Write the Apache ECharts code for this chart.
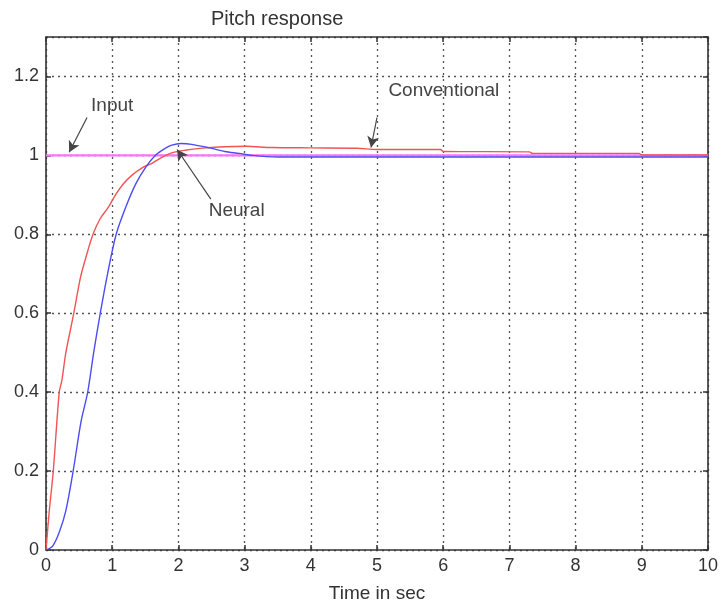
<!DOCTYPE html>
<html>
<head>
<meta charset="utf-8">
<script src="https://cdn.jsdelivr.net/npm/echarts@6/dist/echarts.min.js"></script>
<style>html,body{margin:0;padding:0;background:#fff}#c{width:721px;height:608px}</style>
</head>
<body>
<div id="c"></div>
<script>
// ---- data ----
const titleText = 'Pitch response';
const xAxisName = 'Time in sec';
const inputSeries = [[0, 1], [10, 1]];
const conventional = [
  [0,0],[0.05,0.1],[0.11,0.2],[0.2,0.4],[0.24,0.43],[0.3,0.5],[0.42,0.6],[0.52,0.69],
  [0.6,0.74],[0.71,0.8],[0.82,0.84],[0.94,0.868],[1.05,0.9],[1.17,0.928],[1.3,0.95],
  [1.47,0.97],[1.6,0.98],[1.75,0.995],[1.91,1.007],[2.1,1.013],[2.41,1.019],[2.7,1.022],
  [3.02,1.023],[3.4,1.02],[4.0,1.019],[4.7,1.018],[5.0,1.015],[5.96,1.015],[6.0,1.01],
  [7.3,1.009],[7.35,1.005],[8.96,1.005],[9.0,1.001],[10,1.001]
];
const neural = [
  [0,0],[0.1,0.01],[0.2,0.045],[0.3,0.1],[0.41,0.2],[0.53,0.326],[0.63,0.4],[0.72,0.5],
  [0.82,0.6],[0.93,0.7],[1.06,0.8],[1.21,0.871],[1.36,0.929],[1.51,0.971],[1.65,1.0],
  [1.8,1.018],[1.9,1.026],[2.04,1.03],[2.2,1.028],[2.47,1.019],[2.7,1.01],[2.92,1.005],
  [3.11,1.0],[3.5,0.996],[10,0.996]
];
const labelTexts = ['Input', 'Neural', 'Conventional'];
const labelAt = [[1.0, 1.126], [2.88, 0.86], [6.01, 1.164]];
const arrowFrom = [[0.62, 1.096], [2.49, 0.889], [5.0, 1.096]];
const arrowTo = [[0.35, 1.008], [1.98, 1.015], [4.91, 1.02]];

// ---- chart ----
const chart = echarts.init(document.getElementById('c'));
const font = 'Liberation Sans, Arial, sans-serif';
const axisCommon = {
  axisLine: { show: true, onZero: false, lineStyle: { color: '#333', width: 1.6 } },
  axisTick: { show: true, inside: true, length: 5, lineStyle: { color: '#333', width: 1.5 } },
};
const gridLine = { show: true, lineStyle: { color: '#555', type: [2, 4], width: 1.3 } };
const option = {
  animation: false,
  backgroundColor: '#fff',
  title: {
    text: titleText, left: 206, top: 4,
    textStyle: { fontFamily: font, fontSize: 20, fontWeight: 'normal', color: '#333' }
  },
  grid: { left: 46, right: 11, top: 37, bottom: 56 },
  xAxis: [{
    type: 'value', min: 0, max: 10, interval: 1, position: 'bottom',
    name: xAxisName, nameLocation: 'middle', nameGap: 34,
    nameTextStyle: { fontFamily: font, fontSize: 19, color: '#333' },
    ...axisCommon,
    axisLabel: { fontFamily: font, fontSize: 18, color: '#333', margin: 7 },
    splitLine: gridLine
  }, {
    type: 'value', min: 0, max: 10, interval: 1, position: 'top',
    ...axisCommon, axisLabel: { show: false }, splitLine: { show: false }
  }],
  yAxis: [{
    type: 'value', min: 0, max: 1.3, interval: 0.2, position: 'left',
    ...axisCommon,
    axisLabel: { fontFamily: font, fontSize: 18, color: '#333', margin: 7, showMaxLabel: false },
    splitLine: gridLine
  }, {
    type: 'value', min: 0, max: 1.3, interval: 0.2, position: 'right',
    ...axisCommon, axisLabel: { show: false }, splitLine: { show: false }
  }],
  series: [
    {
      type: 'line', name: 'Input', data: inputSeries, symbol: 'none', silent: true,
      lineStyle: { color: '#ff70ff', width: 2.2 }, z: 2,
      markLine: {
        silent: true, symbol: ['none', 'arrow'], symbolSize: [9, 11],
        lineStyle: { color: '#444', type: 'solid', width: 1.2 },
        itemStyle: { color: '#111' },
        label: { show: false },
        data: arrowFrom.map((f, i) => [{ coord: f }, { coord: arrowTo[i] }])
      },
      markPoint: {
        silent: true, symbol: 'circle', symbolSize: 1,
        itemStyle: { color: 'rgba(0,0,0,0)' },
        label: { show: true, position: 'inside', fontFamily: font, fontSize: 19, color: '#444',
                 formatter: p => p.name },
        data: labelTexts.map((t, i) => ({ name: t, coord: labelAt[i] }))
      }
    },
    {
      type: 'line', name: 'Conventional', data: conventional, symbol: 'none', smooth: 0.3,
      lineStyle: { color: '#f05454', width: 1.4 }, z: 3
    },
    {
      type: 'line', name: 'Neural', data: neural, symbol: 'none', smooth: 0.3,
      lineStyle: { color: '#4c4cf2', width: 1.4 }, z: 4
    }
  ]
};
chart.setOption(option);
</script>
</body>
</html>
